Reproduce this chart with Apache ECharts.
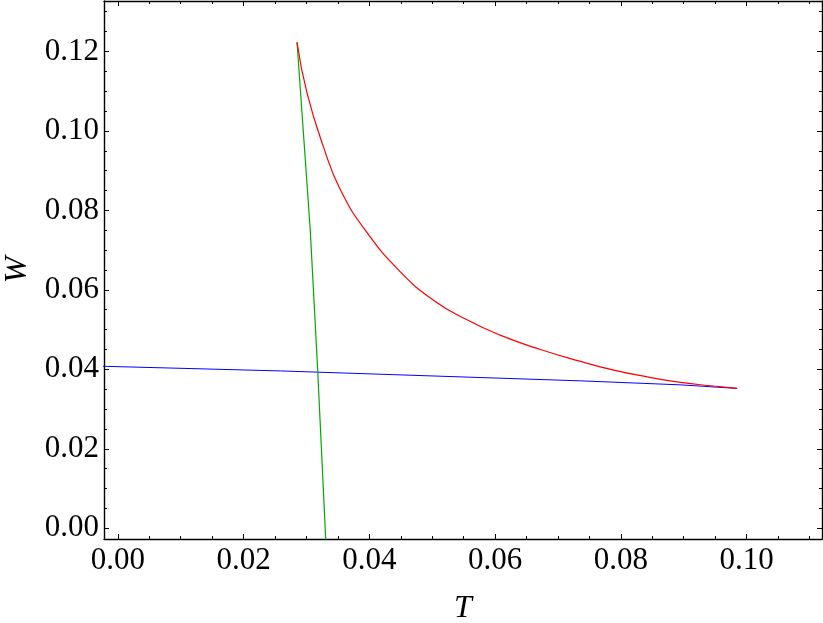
<!DOCTYPE html>
<html>
<head>
<meta charset="utf-8">
<script src="https://cdn.jsdelivr.net/npm/echarts@6/dist/echarts.min.js"></script>
<style>
  html, body { margin: 0; padding: 0; background: #fff; }
  #chart { width: 823px; height: 623px; }
</style>
</head>
<body>
<div id="chart"></div>
<script>
// tick positions
const xMajor = [0, 0.02, 0.04, 0.06, 0.08, 0.10];
const xMinor = [0.005, 0.01, 0.015, 0.025, 0.03, 0.035, 0.045, 0.05, 0.055,
  0.065, 0.07, 0.075, 0.085, 0.09, 0.095, 0.105, 0.11];
const yMajor = [0, 0.02, 0.04, 0.06, 0.08, 0.10, 0.12];
const yMinor = [0.005, 0.01, 0.015, 0.025, 0.03, 0.035, 0.045, 0.05, 0.055,
  0.065, 0.07, 0.075, 0.085, 0.09, 0.095, 0.105, 0.11, 0.115, 0.125, 0.13];

// curves, [T, W]
const redCurve = [
  [0.0285, 0.1223], [0.0301, 0.1095], [0.03275, 0.0958], [0.0354, 0.0852],
  [0.0395, 0.0747], [0.0449, 0.0646], [0.0502, 0.0574], [0.0556, 0.0524],
  [0.0608, 0.0486], [0.0672, 0.0450], [0.0736, 0.0420], [0.0789, 0.0398],
  [0.0842, 0.0381], [0.0895, 0.0367], [0.0948, 0.0358], [0.0985, 0.0352]
];
const greenCurve = [
  [0.0285, 0.1223], [0.0306, 0.0752], [0.0318, 0.0394], [0.0331, -0.004]
];
const blueCurve = [
  [-0.003, 0.0408], [0.0259, 0.0396], [0.0736, 0.0371], [0.0894, 0.0361], [0.0985, 0.0352]
];

const xMin = -0.0022, xMax = 0.112;
const yMin = -0.0027, yMax = 0.1327;

const font = 'Liberation Serif';
const fmt = v => v.toFixed(2);

function xAx(pos, values, len, labels) {
  return {
    type: 'value', position: pos, min: xMin, max: xMax,
    splitLine: { show: false },
    axisLine: { show: len > 4, onZero: false, lineStyle: { color: '#000', width: 1.4 } },
    axisTick: { show: true, inside: true, length: len, customValues: values, lineStyle: { color: '#000', width: 1 } },
    axisLabel: labels ? {
      show: true, customValues: values, formatter: fmt, margin: 6,
      fontFamily: font, fontSize: 31, color: '#000'
    } : { show: false },
    name: labels ? 'T' : '',
    nameLocation: 'middle', nameGap: 54,
    nameTextStyle: { fontFamily: font, fontStyle: 'italic', fontSize: 32, color: '#000' }
  };
}

function yAx(pos, values, len, labels) {
  return {
    type: 'value', position: pos, min: yMin, max: yMax,
    splitLine: { show: false },
    axisLine: { show: len > 4, onZero: false, lineStyle: { color: '#000', width: 1.4 } },
    axisTick: { show: true, inside: true, length: len, customValues: values, lineStyle: { color: '#000', width: 1 } },
    axisLabel: labels ? {
      show: true, customValues: values, formatter: fmt, margin: 5,
      fontFamily: font, fontSize: 31, color: '#000'
    } : { show: false },
    name: labels ? 'W' : '',
    nameLocation: 'middle', nameGap: 66,
    nameTextStyle: { fontFamily: font, fontStyle: 'italic', fontSize: 32, color: '#000' }
  };
}

const chart = echarts.init(document.getElementById('chart'));

chart.setOption({
  animation: false,
  backgroundColor: '#fff',
  grid: { left: 104, top: 1, right: 1, bottom: 84, outerBoundsMode: 'none', containLabel: false },
  xAxis: [
    xAx('bottom', xMajor, 5, true),
    xAx('bottom', xMinor, 3, false),
    xAx('top', xMajor, 5, false),
    xAx('top', xMinor, 3, false)
  ],
  yAxis: [
    yAx('left', yMajor, 5, true),
    yAx('left', yMinor, 3, false),
    yAx('right', yMajor, 5, false),
    yAx('right', yMinor, 3, false)
  ],
  series: [
    {
      type: 'line', data: blueCurve, showSymbol: false, clip: true,
      lineStyle: { color: '#0000ff', width: 1 }
    },
    {
      type: 'line', data: greenCurve, showSymbol: false, clip: true,
      lineStyle: { color: '#00a800', width: 1.2 }
    },
    {
      type: 'line', data: redCurve, showSymbol: false, clip: true,
      smooth: 0.5,
      lineStyle: { color: '#ff0000', width: 1.2 }
    }
  ]
});
</script>
</body>
</html>
